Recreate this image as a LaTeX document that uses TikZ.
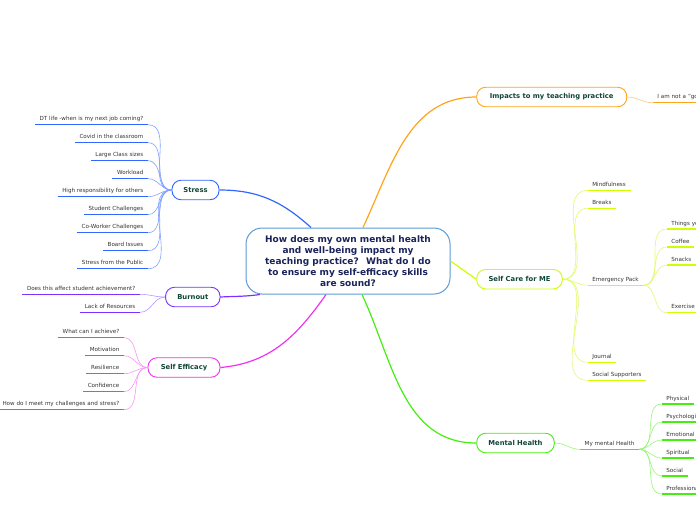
\documentclass[tikz,border=0pt]{standalone}
\usepackage{fontspec}
\setmainfont{DejaVu Sans}
\usetikzlibrary{positioning}
\definecolor{coreblue}{RGB}{91,155,213}
\definecolor{corenavy}{RGB}{26,35,90}
\definecolor{nodegreen}{RGB}{15,70,55}
\definecolor{leafgray}{RGB}{51,51,51}
\definecolor{stressblue}{RGB}{51,102,255}
\definecolor{stresslight}{RGB}{130,160,255}
\definecolor{burnpurple}{RGB}{122,51,255}
\definecolor{burnlight}{RGB}{180,150,255}
\definecolor{effmagenta}{RGB}{238,51,238}
\definecolor{efflight}{RGB}{245,150,245}
\definecolor{impactorange}{RGB}{255,163,26}
\definecolor{impactlight}{RGB}{255,200,120}
\definecolor{carelime}{RGB}{204,255,0}
\definecolor{carelight}{RGB}{225,250,110}
\definecolor{mentalgreen}{RGB}{68,238,17}
\definecolor{mentallight}{RGB}{150,245,120}

\begin{document}
\begin{tikzpicture}[x=1pt,y=1pt,
  cbox/.style={draw=coreblue,rounded corners=16pt,fill=white,line width=1pt,
               minimum width=204pt,minimum height=66pt,align=center,text=corenavy,
               font=\fontsize{9}{11}\selectfont\bfseries},
  mbox/.style={draw=#1,rounded corners=9pt,fill=white,line width=0.9pt,
               minimum height=19.5pt,inner sep=0pt,text=nodegreen,
               font=\fontsize{6.8}{8}\selectfont\bfseries},
  leafitem/.style={font=\fontsize{5.6}{6.5}\selectfont,text=leafgray,inner xsep=4.5pt,
               inner ysep=2.6pt,text height=4.2pt,text depth=1.1pt,
               append after command={(\tikzlastnode.south west) edge[draw=#1,line width=1.5pt] (\tikzlastnode.south east)}},
  trunk/.style={draw=#1,line width=1.2pt},
  lbr/.style={draw=#1,line width=0.6pt,out=180,in=0},
  rbr/.style={draw=#1,line width=0.6pt,out=0,in=180}
]
\useasboundingbox (0,0) rectangle (696,-520);
\node[cbox] (core) at (348,-261) {How does my own mental health\\and well-being impact my\\teaching practice?~ What do I do\\to ensure my self-efficacy skills\\are sound?};
\node[mbox=impactorange,minimum width=150pt] (impacts) at (551.7,-97) {Impacts to my teaching practice};
\node[mbox=carelime,minimum width=85.6pt] (selfcare) at (519.5,-279.2) {Self Care for ME};
\node[mbox=mentalgreen,minimum width=77.6pt] (mental) at (515.5,-443) {Mental Health};
\node[mbox=stressblue,minimum width=47pt] (stress) at (195.5,-190) {Stress};
\node[mbox=burnpurple,minimum width=54.5pt] (burnout) at (192.8,-297) {Burnout};
\node[mbox=effmagenta,minimum width=72pt] (efficacy) at (184,-367.5) {Self Efficacy};
\draw[trunk=stressblue] (stress.east) to[out=0,in=138] ([xshift=-37pt]core.north);
\draw[trunk=burnpurple] (burnout.east) to[out=3,in=188] ([xshift=-88pt]core.south);
\draw[trunk=effmagenta] (efficacy.east) to[out=5,in=235] ([xshift=-22pt]core.south);
\draw[trunk=impactorange] ([xshift=15pt]core.north) to[out=65,in=180] (impacts.west);
\draw[trunk=carelime] (core.east) -- (selfcare.west);
\draw[trunk=mentalgreen] ([xshift=14pt]core.south) to[out=-65,in=180] (mental.west);
\node[leafitem=stressblue,anchor=south east] (dtlife) at (148,-124.7) {DT life -when is my next job coming?};
\node[leafitem=stressblue,anchor=south east] (covid) at (148,-142.7) {Covid in the classroom};
\node[leafitem=stressblue,anchor=south east] (classsize) at (148,-160.7) {Large Class sizes};
\node[leafitem=stressblue,anchor=south east] (workload) at (148,-178.7) {Workload};
\node[leafitem=stressblue,anchor=south east] (responsibility) at (148,-196.7) {High responsibility for others};
\node[leafitem=stressblue,anchor=south east] (students) at (148,-214.7) {Student Challenges};
\node[leafitem=stressblue,anchor=south east] (coworkers) at (148,-232.7) {Co-Worker Challenges};
\node[leafitem=stressblue,anchor=south east] (board) at (148,-250.7) {Board Issues};
\node[leafitem=stressblue,anchor=south east] (public) at (148,-268.7) {Stress from the Public};
\node[leafitem=burnpurple,anchor=south east] (achievement) at (140,-294.3) {Does this affect student achievement?};
\node[leafitem=burnpurple,anchor=south east] (resources) at (140,-312.3) {Lack of Resources};
\node[leafitem=effmagenta,anchor=south east] (achieve) at (124,-337.7) {What can I achieve?};
\node[leafitem=effmagenta,anchor=south east] (motivation) at (124,-355.7) {Motivation};
\node[leafitem=effmagenta,anchor=south east] (resilience) at (124,-373.7) {Resilience};
\node[leafitem=effmagenta,anchor=south east] (confidence) at (124,-391.7) {Confidence};
\node[leafitem=effmagenta,anchor=south east] (challenges) at (124,-409.7) {How do I meet my challenges and stress?};
\node[leafitem=impactorange,anchor=south west,text width=50pt,align=left] (notgood) at (652.7,-102.7) {I am not a "go};
\node[leafitem=carelime,anchor=south west] (mindfulness) at (587.7,-190.3) {Mindfulness};
\node[leafitem=carelime,anchor=south west] (breaks) at (587.7,-208.3) {Breaks};
\node[leafitem=carelime,anchor=south west] (emergency) at (587.7,-285.3) {Emergency Pack};
\node[leafitem=carelime,anchor=south west] (journal) at (587.7,-362.3) {Journal};
\node[leafitem=carelime,anchor=south west] (supporters) at (587.7,-380.3) {Social Supporters};
\node[leafitem=carelime,anchor=south west,text width=40pt,align=left] (things) at (666.7,-229) {Things yo};
\node[leafitem=carelime,anchor=south west] (coffee) at (666.7,-247) {Coffee};
\node[leafitem=carelime,anchor=south west] (snacks) at (666.7,-265) {Snacks};
\node[leafitem=carelime,anchor=south west] (exercise) at (666.7,-312.7) {Exercise};
\node[leafitem=mentalgreen,anchor=south west] (myhealth) at (580,-449.3) {My mental Health};
\node[leafitem=mentalgreen,anchor=south west] (physical) at (661.7,-404) {Physical};
\node[leafitem=mentalgreen,anchor=south west,text width=40pt,align=left] (psychological) at (661.7,-422) {Psychologi};
\node[leafitem=mentalgreen,anchor=south west] (emotional) at (661.7,-440) {Emotional};
\node[leafitem=mentalgreen,anchor=south west] (spiritual) at (661.7,-458) {Spiritual};
\node[leafitem=mentalgreen,anchor=south west] (social) at (661.7,-476) {Social};
\node[leafitem=mentalgreen,anchor=south west,text width=40pt,align=left] (professional) at (661.7,-494) {Professiona};
\draw[lbr=stresslight] (stress.west) to (dtlife.south east);
\draw[lbr=stresslight] (stress.west) to (covid.south east);
\draw[lbr=stresslight] (stress.west) to (classsize.south east);
\draw[lbr=stresslight] (stress.west) to (workload.south east);
\draw[lbr=stresslight] (stress.west) to (responsibility.south east);
\draw[lbr=stresslight] (stress.west) to (students.south east);
\draw[lbr=stresslight] (stress.west) to (coworkers.south east);
\draw[lbr=stresslight] (stress.west) to (board.south east);
\draw[lbr=stresslight] (stress.west) to (public.south east);
\draw[lbr=burnlight] (burnout.west) to (achievement.south east);
\draw[lbr=burnlight] (burnout.west) to (resources.south east);
\draw[lbr=efflight] (efficacy.west) to (achieve.south east);
\draw[lbr=efflight] (efficacy.west) to (motivation.south east);
\draw[lbr=efflight] (efficacy.west) to (resilience.south east);
\draw[lbr=efflight] (efficacy.west) to (confidence.south east);
\draw[lbr=efflight] (efficacy.west) to (challenges.south east);
\draw[rbr=impactlight] (impacts.east) to (notgood.south west);
\draw[rbr=carelight] (selfcare.east) to (mindfulness.south west);
\draw[rbr=carelight] (selfcare.east) to (breaks.south west);
\draw[rbr=carelight] (selfcare.east) to (emergency.south west);
\draw[rbr=carelight] (selfcare.east) to (journal.south west);
\draw[rbr=carelight] (selfcare.east) to (supporters.south west);
\draw[rbr=carelight] (emergency.south east) to (things.south west);
\draw[rbr=carelight] (emergency.south east) to (coffee.south west);
\draw[rbr=carelight] (emergency.south east) to (snacks.south west);
\draw[rbr=carelight] (emergency.south east) to (exercise.south west);
\draw[rbr=mentallight] (mental.east) to (myhealth.south west);
\draw[rbr=mentallight] (myhealth.south east) to (physical.south west);
\draw[rbr=mentallight] (myhealth.south east) to (psychological.south west);
\draw[rbr=mentallight] (myhealth.south east) to (emotional.south west);
\draw[rbr=mentallight] (myhealth.south east) to (spiritual.south west);
\draw[rbr=mentallight] (myhealth.south east) to (social.south west);
\draw[rbr=mentallight] (myhealth.south east) to (professional.south west);
\end{tikzpicture}
\end{document}
